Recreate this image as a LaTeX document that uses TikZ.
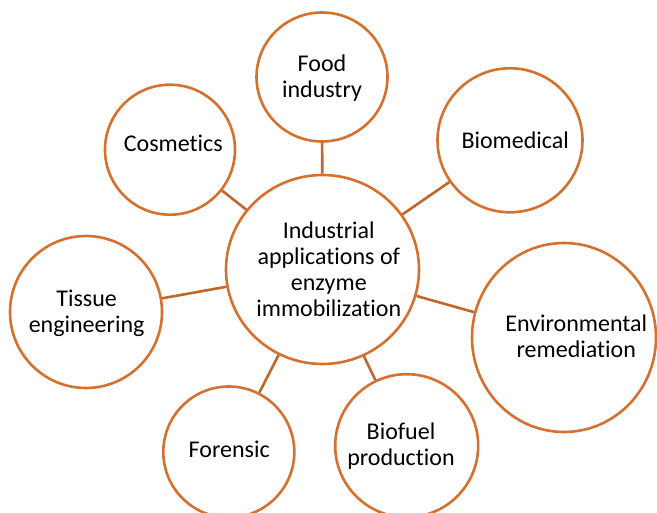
\documentclass[tikz,border=0pt]{standalone}
\usepackage{fontspec}
\setmainfont[Ligatures=NoCommon]{Carlito}
\usetikzlibrary{shapes.geometric}

\definecolor{ringorange}{RGB}{214,112,46}
\definecolor{linkbrown}{RGB}{190,104,44}

% centred stack of lines whose baseline is that of the first line
\newcommand\linestack[1]{\vtop{\halign{\hfil##\hfil\cr#1\crcr}}}

\tikzset{
  bubble/.style={ellipse, draw=ringorange, line width=2.6pt, fill=white, inner sep=0pt},
  caption/.style={anchor=base, inner sep=0pt, text=black,
    font=\fontsize{24}{26}\selectfont},
  link/.style={draw=linkbrown, line width=2.6pt}
}

\begin{document}
\begin{tikzpicture}[x=1pt, y=-1pt]
  \useasboundingbox (0,0) rectangle (657,513);

  % circles
  \node[bubble, minimum width=193pt, minimum height=189pt] (hub) at (322.5,269.5) {};
  \node[bubble, minimum width=131pt, minimum height=129pt] (food) at (322,77) {};
  \node[bubble, minimum width=130pt, minimum height=130pt] (cosm) at (170,149.7) {};
  \node[bubble, minimum width=145pt, minimum height=144pt] (biomed) at (510,140.3) {};
  \node[bubble, minimum width=152pt, minimum height=152pt] (tissue) at (86,312) {};
  \node[bubble, minimum width=184pt, minimum height=189pt] (env) at (564,337.5) {};
  \node[bubble, minimum width=131pt, minimum height=131pt] (foren) at (228.8,452) {};
  \node[bubble, minimum width=143pt, minimum height=143pt] (biofuel) at (406.7,445.7) {};

  % spokes
  \path[link] (hub) -- (food);
  \path[link] (hub) -- (cosm);
  \path[link] (hub) -- (biomed);
  \path[link] (hub) -- (tissue);
  \path[link] (hub) -- (env);
  \path[link] (hub) -- (foren);
  \path[link] (hub) -- (biofuel);

  % texts
  \node[caption] (hubtext) at (328.8,239) {\linestack{Industrial\cr applications of\cr enzyme\cr immobilization}};
  \node[caption] (foodtext) at (322,71.7) {\linestack{Food\cr industry}};
  \node[caption] (cosmtext) at (173.3,151.7) {Cosmetics};
  \node[caption] (biomedtext) at (515.2,148.3) {Biomedical};
  \node[caption] (tissuetext) at (86.6,306.7) {\linestack{Tissue\cr engineering}};
  \node[caption] (envtext) at (576.3,331.7) {\linestack{Environmental\cr remediation}};
  \node[caption] (forentext) at (229.2,457.7) {Forensic};
  \node[caption] (biofueltext) at (401,440) {\linestack{Biofuel\cr production}};
\end{tikzpicture}
\end{document}
